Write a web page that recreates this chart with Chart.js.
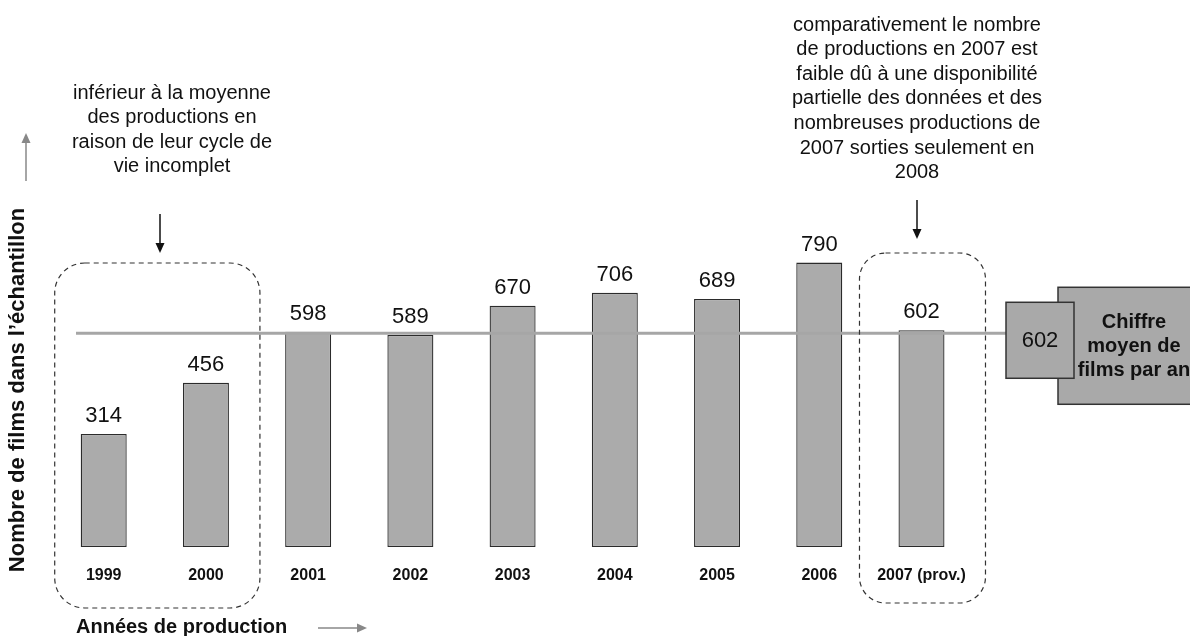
<!DOCTYPE html>
<html>
<head>
<meta charset="utf-8">
<script src="https://cdn.jsdelivr.net/npm/chart.js@4"></script>
<style>
body { margin: 0; background: #fff; }
#wrap { width: 1190px; height: 636px; position: relative; }
</style>
</head>
<body>
<div id="wrap"><canvas id="chart"></canvas></div>
<script>
// données
var annees = ['1999', '2000', '2001', '2002', '2003', '2004', '2005', '2006', '2007 (prov.)'];
var films = [314, 456, 598, 589, 670, 706, 689, 790, 602];
var moyenne = 602;

var titreY = 'Nombre de films dans l\u2019échantillon';
var titreX = 'Années de production';
var noteGauche = ['inférieur à la moyenne', 'des productions en', 'raison de leur cycle de', 'vie incomplet'];
var noteDroite = ['comparativement le nombre', 'de productions en 2007 est', 'faible dû à une disponibilité',
  'partielle des données et des', 'nombreuses productions de', '2007 sorties seulement en', '2008'];
var legendeMoyenne = ['Chiffre', 'moyen de', 'films par an'];

var police = '"Liberation Sans", Arial, sans-serif';

function fleche(ctx, x1, y1, x2, y2, couleur) {
  var a = Math.atan2(y2 - y1, x2 - x1);
  ctx.save();
  ctx.strokeStyle = couleur;
  ctx.fillStyle = couleur;
  ctx.lineWidth = 1.5;
  ctx.beginPath();
  ctx.moveTo(x1, y1);
  ctx.lineTo(x2 - 9 * Math.cos(a), y2 - 9 * Math.sin(a));
  ctx.stroke();
  ctx.beginPath();
  ctx.moveTo(x2, y2);
  ctx.lineTo(x2 - 10 * Math.cos(a) + 4.5 * Math.sin(a), y2 - 10 * Math.sin(a) - 4.5 * Math.cos(a));
  ctx.lineTo(x2 - 10 * Math.cos(a) - 4.5 * Math.sin(a), y2 - 10 * Math.sin(a) + 4.5 * Math.cos(a));
  ctx.closePath();
  ctx.fill();
  ctx.restore();
}

function cadre(ctx, x1, y1, x2, y2, r) {
  ctx.save();
  ctx.setLineDash([5, 4]);
  ctx.strokeStyle = '#333';
  ctx.lineWidth = 1.2;
  ctx.beginPath();
  ctx.roundRect(x1, y1, x2 - x1, y2 - y1, r);
  ctx.stroke();
  ctx.restore();
}

var dessin = {
  id: 'dessin',
  afterDatasetsDraw: function(chart) {
    var ctx = chart.ctx;
    var sx = chart.scales.x, sy = chart.scales.y;
    var meta = chart.getDatasetMeta(0);
    ctx.save();

    // ligne de la moyenne
    var ym = sy.getPixelForValue(moyenne) + 3;
    ctx.strokeStyle = '#a6a6a6';
    ctx.lineWidth = 3;
    ctx.beginPath();
    ctx.moveTo(76, ym);
    ctx.lineTo(1006, ym);
    ctx.stroke();

    // boîtes à droite
    ctx.fillStyle = '#a9a9a9';
    ctx.strokeStyle = '#333';
    ctx.lineWidth = 1.5;
    ctx.fillRect(1058, ym - 46, 160, 117);
    ctx.strokeRect(1058, ym - 46, 160, 117);
    ctx.fillRect(1006, ym - 31, 68, 76);
    ctx.strokeRect(1006, ym - 31, 68, 76);

    ctx.fillStyle = '#111';
    ctx.textAlign = 'center';
    ctx.textBaseline = 'middle';
    ctx.font = '22px ' + police;
    ctx.fillText(String(moyenne), 1040, ym + 8);
    ctx.font = 'bold 20px ' + police;
    legendeMoyenne.forEach(function(t, i) {
      ctx.fillText(t, 1134, ym - 11 + i * 24);
    });

    // valeurs et années
    meta.data.forEach(function(bar, i) {
      ctx.font = '22px ' + police;
      ctx.fillText(String(films[i]), bar.x, bar.y - 18);
      ctx.font = 'bold 16px ' + police;
      ctx.fillText(annees[i], bar.x, 576);
    });

    // cadres pointillés
    var x0 = sx.getPixelForValue(0), x1 = sx.getPixelForValue(1), x8 = sx.getPixelForValue(8);
    cadre(ctx, x0 - 49, 263, x1 + 54, 608, 30);
    cadre(ctx, x8 - 62, 253, x8 + 64, 603, 26);

    // annotations
    ctx.fillStyle = '#111';
    ctx.font = '20px ' + police;
    noteGauche.forEach(function(t, i) {
      ctx.fillText(t, 172, 93 + i * 24.6);
    });
    noteDroite.forEach(function(t, i) {
      ctx.fillText(t, 917, 25 + i * 24.6);
    });
    fleche(ctx, 160, 214, 160, 253, '#111');
    fleche(ctx, 917, 200, 917, 239, '#111');

    // titres des axes
    ctx.fillStyle = '#111';
    ctx.font = 'bold 20px ' + police;
    ctx.textAlign = 'left';
    ctx.fillText(titreX, 76, 627);
    fleche(ctx, 318, 628, 367, 628, '#888');
    ctx.save();
    ctx.fillStyle = '#111';
    ctx.font = 'bold 22px ' + police;
    ctx.translate(18, 390);
    ctx.rotate(-Math.PI / 2);
    ctx.textAlign = 'center';
    ctx.fillText(titreY, 0, 0);
    ctx.restore();
    fleche(ctx, 26, 181, 26, 133, '#888');

    ctx.restore();
  }
};

new Chart(document.getElementById('chart'), {
  type: 'bar',
  data: {
    labels: annees,
    datasets: [{
      data: films,
      backgroundColor: '#ababab',
      borderColor: '#2b2b2b',
      borderWidth: 1.3,
      borderSkipped: false,
      barPercentage: 0.45,
      categoryPercentage: 1
    }]
  },
  options: {
    responsive: true,
    maintainAspectRatio: false,
    animation: false,
    layout: { padding: { left: 52.6, right: 217.4, top: 187, bottom: 89 } },
    plugins: { legend: { display: false }, tooltip: { enabled: false } },
    scales: {
      x: { display: false },
      y: { display: false, min: 0, max: 1000 }
    }
  },
  plugins: [dessin]
});
</script>
</body>
</html>
